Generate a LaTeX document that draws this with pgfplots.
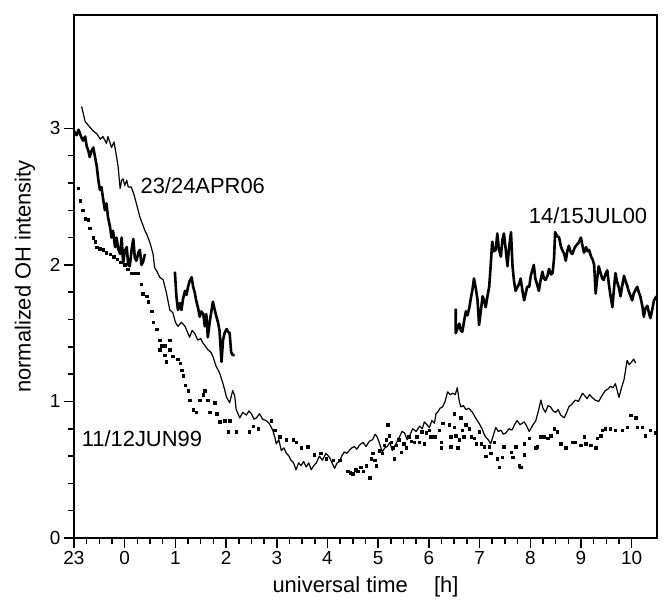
\documentclass[border=0pt]{standalone}
\usepackage{fontspec}
\setmainfont{Liberation Sans}
\usepackage{pgfplots}
\pgfplotsset{compat=1.18}
\begin{document}
\begin{tikzpicture}
\begin{axis}[
  scale only axis, width=583bp, height=523bp,
  xmin=0, xmax=11.5, ymin=0, ymax=3.83,
  xtick={0,...,11}, xticklabels={23,0,1,2,3,4,5,6,7,8,9,10},
  ytick={0,1,2,3}, yticklabels={0,1,2,3},
  minor x tick num=3, minor y tick num=4,
  tick align=outside, xtick pos=bottom, ytick pos=left,
  major tick length=10bp, minor tick length=6bp,
  every tick/.style={black, line width=1.5bp},
  axis line style={line width=2.2bp},
  ticklabel style={font=\fontsize{19}{22}\selectfont},
  label style={font=\fontsize{22}{26}\selectfont},
  xlabel={universal time\hspace{1.2em}[h]},
  ylabel={normalized OH intensity},
  xlabel style={at={(axis description cs:0.5,-0.094)}, anchor=center},
  ylabel style={at={(axis description cs:-0.084,0.5)}, anchor=center},
]
% 23/24APR06 (thin line)
\addplot[black, line width=1.2bp, line join=round] coordinates {
(0.15,3.16)(0.22,3.05)(0.31,3.01)(0.38,2.98)(0.45,2.96)(0.52,2.92)(0.57,2.94)(0.64,2.89)(0.67,2.94)(0.74,2.86)(0.79,2.90)(0.84,2.79)(0.87,2.72)(0.91,2.56)(0.94,2.62)(0.97,2.63)(1.00,2.58)(1.04,2.62)(1.07,2.57)(1.13,2.57)(1.18,2.52)(1.23,2.45)(1.30,2.35)(1.35,2.30)(1.40,2.25)(1.44,2.22)(1.50,2.16)(1.56,2.08)(1.59,1.98)(1.64,1.95)(1.69,1.91)(1.76,1.89)(1.82,1.80)(1.89,1.67)(1.95,1.65)(2.00,1.58)(2.05,1.55)(2.12,1.58)(2.19,1.55)(2.28,1.47)(2.33,1.52)(2.38,1.50)(2.44,1.45)(2.50,1.46)(2.54,1.43)(2.60,1.40)(2.64,1.38)(2.70,1.36)(2.74,1.33)(2.80,1.26)(2.87,1.21)(2.94,1.13)(3.01,1.03)(3.07,0.99)(3.13,1.08)(3.17,1.04)(3.20,0.94)(3.27,0.88)(3.33,0.92)(3.40,0.90)(3.45,0.93)(3.50,0.91)(3.55,0.87)(3.60,0.88)(3.66,0.91)(3.72,0.87)(3.79,0.86)(3.85,0.84)(3.92,0.79)(3.96,0.74)(3.99,0.69)(4.04,0.72)(4.09,0.64)(4.14,0.66)(4.19,0.62)(4.24,0.60)(4.28,0.57)(4.33,0.55)(4.38,0.50)(4.43,0.55)(4.48,0.53)(4.53,0.56)(4.58,0.52)(4.63,0.55)(4.68,0.50)(4.73,0.53)(4.78,0.55)(4.84,0.60)(4.90,0.57)(4.97,0.62)(5.04,0.59)(5.09,0.55)(5.14,0.51)(5.19,0.55)(5.24,0.56)(5.28,0.60)(5.33,0.63)(5.38,0.62)(5.43,0.64)(5.48,0.66)(5.53,0.67)(5.58,0.65)(5.63,0.68)(5.70,0.70)(5.76,0.67)(5.83,0.71)(5.89,0.72)(5.94,0.76)(5.98,0.74)(6.03,0.69)(6.08,0.63)(6.13,0.66)(6.18,0.67)(6.23,0.70)(6.28,0.64)(6.35,0.69)(6.42,0.74)(6.47,0.78)(6.52,0.77)(6.57,0.72)(6.61,0.74)(6.68,0.80)(6.75,0.78)(6.82,0.82)(6.87,0.80)(6.91,0.85)(6.96,0.83)(7.01,0.81)(7.06,0.86)(7.11,0.84)(7.14,0.91)(7.17,0.92)(7.22,0.95)(7.27,0.96)(7.32,1.00)(7.37,1.07)(7.42,1.05)(7.47,1.06)(7.52,1.05)(7.56,1.10)(7.60,1.00)(7.63,0.96)(7.68,0.97)(7.73,0.94)(7.79,0.95)(7.86,0.92)(7.92,0.88)(7.99,0.84)(8.05,0.80)(8.09,0.76)(8.12,0.74)(8.17,0.72)(8.22,0.69)(8.27,0.75)(8.32,0.81)(8.37,0.78)(8.42,0.79)(8.47,0.76)(8.52,0.77)(8.58,0.80)(8.64,0.79)(8.69,0.83)(8.74,0.86)(8.80,0.83)(8.88,0.85)(8.93,0.82)(8.98,0.78)(9.04,0.82)(9.11,0.86)(9.16,0.93)(9.21,1.01)(9.25,0.95)(9.30,0.92)(9.35,0.97)(9.40,0.96)(9.45,0.93)(9.50,0.92)(9.55,0.94)(9.60,0.90)(9.67,0.88)(9.72,0.92)(9.76,0.96)(9.82,0.98)(9.89,1.01)(9.95,1.00)(10.03,1.06)(10.08,1.04)(10.12,1.02)(10.17,1.05)(10.22,1.03)(10.28,1.01)(10.35,1.00)(10.41,1.04)(10.48,1.08)(10.53,1.09)(10.58,1.11)(10.63,1.10)(10.68,1.13)(10.75,1.03)(10.80,1.10)(10.85,1.16)(10.91,1.30)(10.95,1.27)(10.98,1.28)(11.04,1.31)(11.08,1.28)
};
% 14/15JUL00 (thick line), first part
\addplot[black, line width=2.6bp, line join=round] coordinates {
(0.00,2.98)(0.05,2.95)(0.09,2.99)(0.12,2.96)(0.15,2.93)(0.18,2.91)(0.22,2.94)(0.25,2.87)(0.28,2.84)(0.31,2.79)(0.34,2.83)(0.38,2.86)(0.41,2.80)(0.45,2.72)(0.48,2.62)(0.51,2.55)(0.54,2.57)(0.58,2.47)(0.61,2.40)(0.64,2.45)(0.67,2.35)(0.71,2.28)(0.74,2.20)(0.77,2.25)(0.81,2.13)(0.84,2.20)(0.87,2.12)(0.91,2.08)(0.94,2.20)(0.97,2.01)(1.00,2.10)(1.04,2.13)(1.07,2.00)(1.10,1.99)(1.14,2.12)(1.17,2.19)(1.20,2.05)(1.23,2.03)(1.27,2.09)(1.30,2.11)(1.33,2.00)(1.36,2.02)(1.40,2.08)
};
\addplot[black, line width=2.6bp, line join=round] coordinates {
(1.99,1.95)(2.02,1.77)(2.05,1.67)(2.09,1.72)(2.12,1.67)(2.15,1.75)(2.19,1.81)(2.22,1.78)(2.25,1.84)(2.28,1.88)(2.32,1.91)(2.35,1.84)(2.38,1.80)(2.41,1.74)(2.45,1.68)(2.48,1.62)(2.51,1.66)(2.55,1.64)(2.58,1.55)(2.61,1.64)(2.64,1.47)(2.68,1.59)(2.71,1.66)(2.74,1.73)(2.77,1.68)(2.81,1.62)(2.84,1.58)(2.87,1.52)(2.91,1.29)(2.94,1.45)(2.97,1.50)(3.01,1.53)(3.04,1.51)(3.07,1.50)(3.10,1.36)(3.13,1.34)(3.17,1.34)
};
\addplot[black, line width=2.6bp, line join=round] coordinates {
(7.53,1.68)(7.53,1.50)(7.57,1.54)(7.60,1.57)(7.63,1.52)(7.66,1.51)(7.70,1.60)(7.73,1.66)(7.76,1.63)(7.80,1.69)(7.83,1.76)(7.86,1.82)(7.89,1.90)(7.93,1.82)(7.96,1.74)(7.99,1.56)(8.03,1.68)(8.06,1.77)(8.09,1.74)(8.12,1.69)(8.16,1.78)(8.19,1.84)(8.22,2.00)(8.25,2.17)(8.28,2.10)(8.32,2.11)(8.35,2.23)(8.38,2.12)(8.42,2.06)(8.45,2.18)(8.48,2.23)(8.52,2.10)(8.55,1.99)(8.58,2.12)(8.62,2.24)(8.65,1.99)(8.68,1.88)(8.71,1.81)(8.75,1.84)(8.78,1.86)(8.81,1.90)(8.85,1.80)(8.88,1.74)(8.91,1.79)(8.94,1.84)(8.98,1.84)(9.01,1.92)(9.04,1.96)(9.07,2.00)(9.10,1.90)(9.14,1.85)(9.17,1.81)(9.20,1.88)(9.24,1.95)(9.27,1.90)(9.30,1.89)(9.34,1.92)(9.37,1.97)(9.41,1.93)(9.44,1.94)(9.47,2.05)(9.49,2.24)(9.53,2.21)(9.57,2.20)(9.60,2.14)(9.63,2.11)(9.67,2.08)(9.70,2.03)(9.73,2.10)(9.76,2.14)(9.80,2.09)(9.83,2.08)(9.87,2.12)(9.90,2.14)(9.95,2.16)(10.00,2.20)(10.03,2.14)(10.06,2.09)(10.10,2.13)(10.13,2.10)(10.16,2.11)(10.20,2.06)(10.23,2.04)(10.26,2.00)(10.29,1.79)(10.32,1.90)(10.35,1.99)(10.38,1.95)(10.42,1.90)(10.45,1.89)(10.48,1.93)(10.52,1.96)(10.55,1.86)(10.58,1.78)(10.62,1.69)(10.65,1.82)(10.68,1.94)(10.71,1.88)(10.75,1.83)(10.78,1.77)(10.81,1.84)(10.85,1.92)(10.88,1.88)(10.91,1.85)(10.94,1.81)(10.98,1.77)(11.01,1.74)(11.04,1.79)(11.08,1.82)(11.11,1.84)(11.14,1.80)(11.17,1.77)(11.21,1.70)(11.24,1.62)(11.27,1.68)(11.31,1.70)(11.34,1.65)(11.37,1.61)(11.41,1.68)(11.44,1.74)(11.47,1.76)(11.50,1.77)
};
% 11/12JUN99 (dotted)
\addplot[black, only marks, mark=square*, mark size=1.25bp] coordinates {
(0.08,2.56)(0.12,2.47)(0.17,2.40)(0.22,2.34)(0.28,2.33)(0.31,2.27)(0.38,2.20)(0.42,2.17)(0.45,2.13)(0.51,2.12)(0.58,2.11)(0.64,2.09)(0.71,2.08)(0.78,2.06)(0.85,2.04)(0.92,2.02)(1.00,2.00)(1.06,1.97)(1.13,1.94)(1.20,1.94)(1.27,1.94)(1.33,1.86)(1.36,1.79)(1.43,1.77)(1.46,1.73)(1.53,1.66)(1.56,1.58)(1.63,1.53)(1.69,1.45)(1.72,1.41)(1.79,1.41)(1.89,1.45)(1.69,1.38)(1.79,1.34)(1.82,1.29)(1.89,1.38)(1.95,1.33)(2.05,1.31)(2.09,1.28)(2.12,1.23)(2.15,1.19)(2.19,1.12)(2.25,1.08)(2.28,1.01)(2.35,0.94)(2.41,0.92)(2.48,1.01)(2.55,1.05)(2.58,1.08)(2.64,1.01)(2.68,0.92)(2.78,0.99)(2.81,0.91)(2.87,0.85)(2.97,0.86)(3.07,0.86)(3.04,0.78)(3.20,0.78)(3.46,0.78)(3.53,0.82)(3.63,0.80)(3.89,0.86)(3.96,0.79)(4.06,0.74)(4.19,0.72)(4.32,0.72)(4.38,0.70)(4.48,0.66)(4.61,0.67)(4.74,0.61)(4.87,0.62)(4.97,0.58)(5.11,0.57)(5.24,0.57)(5.40,0.49)(5.45,0.48)(5.50,0.47)(5.56,0.50)(5.60,0.49)(5.66,0.52)(5.70,0.49)(5.76,0.53)(5.83,0.44)(5.86,0.58)(5.89,0.62)(5.93,0.57)(5.96,0.53)(6.02,0.64)(6.08,0.62)(6.12,0.68)(6.16,0.72)(6.19,0.83)(6.22,0.75)(6.26,0.70)(6.29,0.66)(6.32,0.58)(6.36,0.68)(6.40,0.72)(6.45,0.63)(6.50,0.69)(6.55,0.66)(6.60,0.74)(6.65,0.71)(6.71,0.70)(6.76,0.74)(6.81,0.70)(6.86,0.78)(6.91,0.69)(6.95,0.77)(7.01,0.79)(7.04,0.74)(7.11,0.74)(7.20,0.79)(7.24,0.70)(7.24,0.66)(7.27,0.84)(7.40,0.83)(7.43,0.74)(7.43,0.67)(7.50,0.91)(7.50,0.81)(7.53,0.75)(7.60,0.72)(7.57,0.66)(7.63,0.88)(7.66,0.79)(7.69,0.74)(7.73,0.83)(7.80,0.80)(7.83,0.74)(7.89,0.73)(7.93,0.69)(7.99,0.78)(8.03,0.69)(8.09,0.67)(8.12,0.60)(8.19,0.67)(8.22,0.62)(8.29,0.70)(8.35,0.58)(8.39,0.52)(8.45,0.59)(8.48,0.67)(8.62,0.63)(8.65,0.59)(8.71,0.67)(8.78,0.53)(8.81,0.52)(8.88,0.61)(8.88,0.69)(8.98,0.73)(9.11,0.66)(9.14,0.67)(9.21,0.74)(9.27,0.74)(9.34,0.73)(9.40,0.75)(9.47,0.80)(9.53,0.78)(9.60,0.69)(9.70,0.66)(9.83,0.70)(9.89,0.70)(9.99,0.68)(10.06,0.74)(10.09,0.69)(10.19,0.68)(10.29,0.66)(10.32,0.73)(10.39,0.75)(10.42,0.79)(10.48,0.80)(10.58,0.80)(10.68,0.79)(10.81,0.79)(10.91,0.81)(10.98,0.90)(11.08,0.88)(11.11,0.81)(11.21,0.81)(11.27,0.75)(11.37,0.79)(11.47,0.77)
};
\node[font=\fontsize{22}{26}\selectfont] at (axis cs:2.54,2.58) {23/24APR06};
\node[font=\fontsize{22}{26}\selectfont] at (axis cs:10.14,2.36) {14/15JUL00};
\node[font=\fontsize{22}{26}\selectfont] at (axis cs:1.34,0.73) {11/12JUN99};
\end{axis}
\path[use as bounding box] (-74bp,-61bp) rectangle (591bp,538bp);
\end{tikzpicture}
\end{document}
